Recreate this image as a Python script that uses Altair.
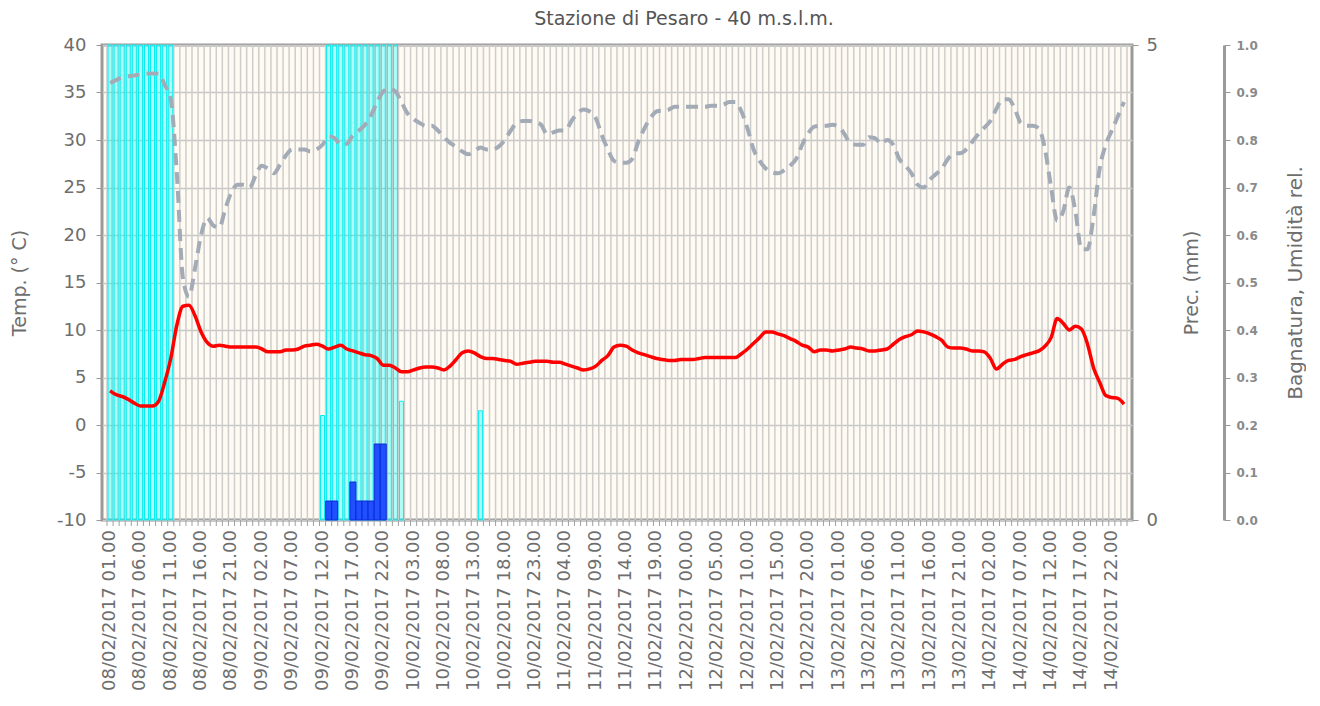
from datetime import datetime, timedelta
import altair as alt
import pandas as pd

# hourly timestamps (categories): 08/02/2017 01.00 ... 15/02/2017 00.00
times = [(datetime(2017, 2, 8, 1) + timedelta(hours=k)).strftime("%d/%m/%Y %H.%M") for k in range(168)]
label_every = 5

# Temperature (°C), hourly
temp = [
    3.6, 3.2, 3.0, 2.7, 2.3, 2.0, 2.0, 2.0, 2.5, 4.5,
    7.0, 10.5, 12.5, 12.6, 11.5, 9.8, 8.7, 8.3, 8.4, 8.3,
    8.2, 8.2, 8.2, 8.2, 8.2, 8.0, 7.7, 7.7, 7.7, 7.9,
    7.9, 8.0, 8.3, 8.4, 8.5, 8.3, 8.0, 8.2, 8.4, 8.0,
    7.8, 7.6, 7.4, 7.3, 7.0, 6.3, 6.3, 6.0, 5.6, 5.6,
    5.8, 6.0, 6.1, 6.1, 6.0, 5.8, 6.2, 6.9, 7.6, 7.8,
    7.6, 7.2, 7.0, 7.0, 6.9, 6.8, 6.7, 6.4, 6.5, 6.6,
    6.7, 6.7, 6.7, 6.6, 6.6, 6.4, 6.2, 6.0, 5.8, 5.9,
    6.2, 6.8, 7.3, 8.2, 8.4, 8.3, 7.9, 7.6, 7.4, 7.2,
    7.0, 6.9, 6.8, 6.8, 6.9, 6.9, 6.9, 7.0, 7.1, 7.1,
    7.1, 7.1, 7.1, 7.1, 7.5, 8.0, 8.6, 9.2, 9.8, 9.8,
    9.6, 9.4, 9.1, 8.8, 8.4, 8.2, 7.7, 7.9, 7.9, 7.8,
    7.9, 8.0, 8.2, 8.1, 8.0, 7.8, 7.8, 7.9, 8.0, 8.5,
    9.0, 9.3, 9.5, 9.9, 9.8, 9.6, 9.3, 8.9, 8.2, 8.1,
    8.1, 8.0, 7.8, 7.8, 7.7, 7.0, 5.9, 6.4, 6.8, 6.9,
    7.2, 7.4, 7.6, 7.8, 8.3, 9.2, 11.2, 10.7, 10.0, 10.4,
    10.1, 8.5, 6.0, 4.5, 3.1, 2.9, 2.8, 2.2,
]

# Relative humidity (fraction), hourly
hum = [
    0.920, 0.926, 0.932, 0.934, 0.936, 0.938, 0.940, 0.940, 0.940, 0.916,
    0.886, 0.730, 0.510, 0.470, 0.530, 0.600, 0.636, 0.620, 0.616, 0.656,
    0.690, 0.706, 0.706, 0.700, 0.726, 0.746, 0.740, 0.730, 0.748, 0.768,
    0.780, 0.780, 0.780, 0.776, 0.780, 0.790, 0.808, 0.804, 0.790, 0.792,
    0.810, 0.820, 0.832, 0.852, 0.880, 0.902, 0.908, 0.902, 0.880, 0.856,
    0.844, 0.836, 0.830, 0.830, 0.820, 0.806, 0.794, 0.786, 0.776, 0.770,
    0.776, 0.784, 0.780, 0.780, 0.786, 0.800, 0.820, 0.836, 0.840, 0.840,
    0.838, 0.832, 0.812, 0.816, 0.820, 0.820, 0.840, 0.856, 0.864, 0.860,
    0.846, 0.810, 0.780, 0.756, 0.752, 0.752, 0.760, 0.796, 0.824, 0.846,
    0.860, 0.862, 0.864, 0.870, 0.870, 0.870, 0.870, 0.870, 0.870, 0.872,
    0.872, 0.874, 0.880, 0.880, 0.860, 0.824, 0.780, 0.756, 0.740, 0.732,
    0.730, 0.736, 0.746, 0.760, 0.790, 0.814, 0.828, 0.830, 0.830, 0.832,
    0.828, 0.812, 0.792, 0.790, 0.790, 0.806, 0.804, 0.792, 0.800, 0.790,
    0.760, 0.746, 0.730, 0.706, 0.700, 0.716, 0.728, 0.740, 0.760, 0.772,
    0.772, 0.780, 0.796, 0.812, 0.826, 0.840, 0.866, 0.886, 0.886, 0.866,
    0.836, 0.830, 0.830, 0.824, 0.780, 0.700, 0.630, 0.650, 0.700, 0.650,
    0.570, 0.570, 0.640, 0.740, 0.790, 0.820, 0.850, 0.880,
]

# Leaf wetness (fraction) - hours (index into times) with non-zero values
wet_hours = [0, 1, 2, 3, 4, 5, 6, 7, 8, 9, 10,
             35, 36, 37, 38, 39, 40, 41, 42, 43, 44, 45, 46, 47, 48, 61]
wet_vals = [1.0] * 11 + [0.22] + [1.0] * 12 + [0.25, 0.23]

# Precipitation (mm)
prec_hours = [36, 37, 40, 41, 42, 43, 44, 45]
prec_mm = [0.2, 0.2, 0.4, 0.2, 0.2, 0.2, 0.8, 0.8]

W, H = 1030, 475
FONT = "DejaVu Sans"
GRAY = "#6e6e6e"
FMT = "%d/%m/%Y %H.%M"

stamps = pd.to_datetime(times, format=FMT)
df = pd.DataFrame({"time": stamps, "temp": temp, "hum": hum})
wet_df = pd.DataFrame({"time": stamps[wet_hours], "v": wet_vals})
prec_df = pd.DataFrame({"time": stamps[prec_hours], "p": prec_mm})
half = pd.Timedelta(minutes=30)
edges = list(stamps - half) + [stamps[-1] + half]
edges_df = pd.DataFrame({"time": edges})
lab_idx = list(range(0, len(times), label_every))
labels_df = pd.DataFrame({"time": stamps[lab_idx], "label": [times[k] for k in lab_idx]})


def dt(ts):
    return alt.DateTime(year=ts.year, month=ts.month, date=ts.day,
                        hours=ts.hour, minutes=ts.minute)


xscale = alt.Scale(domain=[dt(edges[0]), dt(edges[-1])], nice=False)
X = alt.X("time:T", scale=xscale, axis=None)

vgrid = alt.Chart(edges_df).mark_rule(color="#cdcdcd", strokeWidth=1.5).encode(
    x=X, y=alt.value(0), y2=alt.value(H),
)
xticks = alt.Chart(edges_df).mark_rule(color="#a0a0a0", strokeWidth=1).encode(
    x=X, y=alt.value(H), y2=alt.value(H + 6),
)
xlabels = alt.Chart(labels_df).mark_text(
    angle=270, align="right", baseline="middle", font=FONT, fontSize=18,
    color=GRAY,
).encode(
    x=X, y=alt.value(H + 10), text="label:N",
)

wet = alt.Chart(wet_df).mark_bar(
    orient="vertical", size=4, fill="#00ffff", fillOpacity=0.3,
    stroke="#00eef2", strokeWidth=1,
).encode(
    x=X,
    y=alt.Y("v:Q", scale=alt.Scale(domain=[0, 1], nice=False), axis=None),
)

prec = alt.Chart(prec_df).mark_bar(
    orient="vertical", size=6, fill="#1f4fff", stroke="#0a2bd6", strokeWidth=1,
).encode(
    x=X,
    y=alt.Y("p:Q", scale=alt.Scale(domain=[0, 5], nice=False),
            axis=alt.Axis(orient="right", values=[0, 5], title="Prec. (mm)",
                          labelFontSize=18, labelFont=FONT, labelColor=GRAY,
                          titleFont=FONT, titleFontSize=19, titleColor=GRAY,
                          titleFontWeight="normal", titleAngle=270, tickSize=6,
                          tickColor="#999", labelPadding=8, titlePadding=44,
                          domain=False, grid=False)),
)

temp_line = alt.Chart(df).mark_line(
    color="#ff0000", strokeWidth=3.5, interpolate="monotone",
).encode(
    x=X,
    y=alt.Y("temp:Q", scale=alt.Scale(domain=[-10, 40], nice=False),
            axis=alt.Axis(orient="left", values=list(range(-10, 41, 5)), title="Temp. (° C)",
                          labelExpr="toString(datum.value)",
                          labelFontSize=18, labelFont=FONT, labelColor=GRAY,
                          titleFont=FONT, titleFontSize=19, titleColor=GRAY,
                          titleFontWeight="normal", tickSize=6, tickColor="#999",
                          labelPadding=10, titlePadding=27, domain=False,
                          grid=True, gridColor="#c8c8c8", gridWidth=1.5)),
)

hum_line = alt.Chart(df).mark_line(
    color="#a3abb7", strokeWidth=4, strokeDash=[12, 7], interpolate="monotone",
).encode(
    x=X,
    y=alt.Y("hum:Q", scale=alt.Scale(domain=[0, 1], nice=False),
            axis=alt.Axis(orient="right", offset=92, values=[round(v * 0.1, 1) for v in range(11)],
                          format=".1f", title="Bagnatura, Umidità rel.",
                          labelFontSize=12, labelFont=FONT, labelFontWeight="bold",
                          labelColor="#8a8a8a", titleFont=FONT, titleFontSize=20,
                          titleColor=GRAY, titleFontWeight="normal", titleAngle=270,
                          tickSize=6, tickColor="#999", domain=True, domainColor="#9a9a9a",
                          domainWidth=3, labelPadding=6, titlePadding=48, grid=False)),
)

chart = alt.layer(vgrid, xticks, xlabels, wet, prec, temp_line, hum_line).resolve_scale(
    y="independent"
).properties(
    width=W, height=H,
    title=alt.TitleParams("Stazione di Pesaro - 40 m.s.l.m.", font=FONT, fontSize=19,
                          fontWeight="normal", color="#555555", dx=67, offset=7),
    padding={"left": 2, "top": 2, "right": 0, "bottom": 0},
).configure_view(
    fill="#fffbf2", stroke="#9a9a9a", strokeWidth=3,
)

chart.save("out.html", embed_options={"renderer": "svg", "actions": False})
